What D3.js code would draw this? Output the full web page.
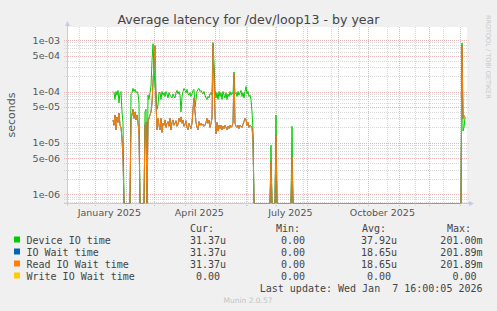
<!DOCTYPE html>
<html>
<head>
<meta charset="utf-8">
<script src="https://cdn.jsdelivr.net/npm/d3@7"></script>
<style>
  html, body { margin: 0; padding: 0; background: #f0f0f0; }
  svg { display: block; font-family: "DejaVu Sans", sans-serif; }
  .mono { font-family: "DejaVu Sans Mono", monospace; font-size: 10px; fill: #444; white-space: pre; }
</style>
</head>
<body>
<svg id="chart" width="497" height="311"></svg>
<script>
// Graph window: 400 days ending at the last update
const graphStart = '2024-12-03T16:00:00Z';
const graphEnd = '2026-01-07T16:00:00Z';

// [days since graphStart, latency in microseconds]; 0 means no latency (drawn on the floor)
const deviceIO = [
  [46,100],[47,95],[48,70],[49,100],[50,85],[51,105],[52,60],[53,95],[54,100],[55,40],[56,25],[57,0],[63,0],
  [64,90],[65,95],[66,115],[67,100],[68,110],[69,95],[70,100],[71,90],[72,60],[73,0],[77,0],[78,40],[79,45],[80,0],
  [81,85],[82,70],[83,95],[84,130],[85,400],[86,850],[87,300],[88,120],[89,90],[90,45],[91,55],[92,95],
  [93,95],[94,70],[95,100],[96,85],[97,95],[98,80],[99,100],[100,90],[101,75],[102,95],[103,85],[104,80],
  [105,75],[106,90],[107,80],[108,75],[109,95],[110,105],[111,90],[112,100],[113,85],[114,40],[115,80],[116,100],
  [117,115],[118,105],[119,95],[120,110],[121,90],[122,85],[123,95],[124,80],[125,90],[126,105],[127,110],[128,50],
  [129,70],[130,100],[131,110],[132,115],[133,100],[134,105],[135,95],[136,90],[137,100],[138,85],[139,75],[140,70],
  [141,80],[142,75],[143,90],[144,95],[145,85],[146,900],[147,350],[148,110],[149,75],[150,95],[151,70],[152,100],
  [153,80],[154,95],[155,70],[156,100],[157,85],[158,75],[159,95],[160,70],[161,90],[162,80],[163,100],[164,85],
  [165,95],[166,90],[167,240],[168,90],[169,95],[170,80],[171,100],[172,85],[173,95],[174,105],[175,80],[176,95],
  [177,75],[178,100],[179,125],[180,90],[181,100],[182,80],[183,85],[184,70],[185,40],[186,18],[187,0],
  [203,0],[204,9],[205,0],[208,0],[209,35],[210,0],[224,0],[225,21],[226,0],
  [394,0],[395,880],[396,17],[397,20],[398,31.37]
];

const readWait = [
  [46,28],[47,22],[48,35],[49,18],[50,32],[51,25],[52,38],[53,22],[54,20],[55,12],[56,5],[57,0],[63,0],
  [64,30],[65,35],[66,45],[67,30],[68,40],[69,28],[70,35],[71,25],[72,15],[73,0],[77,0],[78,22],[79,25],[80,0],
  [81,25],[82,30],[83,35],[84,40],[85,60],[86,150],[87,350],[88,780],[89,60],[90,18],[91,30],[92,22],
  [93,18],[94,30],[95,16],[96,24],[97,22],[98,28],[99,20],[100,24],[101,26],[102,21],[103,30],[104,18],
  [105,25],[106,28],[107,22],[108,24],[109,27],[110,21],[111,23],[112,30],[113,26],[114,32],[115,24],[116,28],
  [117,21],[118,23],[119,27],[120,20],[121,18],[122,24],[123,21],[124,19],[125,24],[126,45],[127,75],[128,40],
  [129,25],[130,20],[131,18],[132,26],[133,22],[134,24],[135,22],[136,23],[137,21],[138,22],[139,25],[140,30],
  [141,24],[142,28],[143,20],[144,24],[145,30],[146,820],[147,200],[148,35],[149,15],[150,25],[151,17],[152,22],
  [153,19],[154,22],[155,18],[156,21],[157,19],[158,22],[159,20],[160,18],[161,21],[162,19],[163,22],[164,20],
  [165,21],[166,25],[167,220],[168,24],[169,21],[170,20],[171,22],[172,19],[173,22],[174,21],[175,20],[176,23],
  [177,26],[178,30],[179,28],[180,22],[181,25],[182,20],[183,22],[184,21],[185,20],[186,12],[187,0],
  [203,0],[204,4.3],[205,0],[208,0],[209,14],[210,0],[224,0],[225,5.3],[226,0],
  [394,0],[395,800],[396,30],[397,34],[398,31.37]
];

// IO Wait equals Read IO Wait over the whole year, Write IO Wait is flat zero
const ioWait = readWait;
const writeWait = [[46,0],[398,0]];

const yTickValues = [1e-3, 5e-4, 1e-4, 5e-5, 1e-5, 5e-6, 1e-6];
const xLabelMonths = ['2025-01-01', '2025-04-01', '2025-07-01', '2025-10-01'];

const legendNames = ['Device IO time', 'IO Wait time', 'Read IO Wait time', 'Write IO Wait time'];
const legendColors = ['#00cc00', '#0066b3', '#ff8000', '#ffcc00'];
const curValues = ['31.37u', '31.37u', '31.37u', '0.00 '];
const minValues = ['0.00 ', '0.00 ', '0.00 ', '0.00 '];
const avgValues = ['37.92u', '18.65u', '18.65u', '0.00 '];
const maxValues = ['201.00m', '201.89m', '201.89m', '0.00 '];
const lastUpdate = 'Last update: Wed Jan  7 16:00:05 2026';

const svg = d3.select('#chart');
const plot = { left: 67, right: 467, top: 27, bottom: 203 };

const t0 = new Date(graphStart);
const dayMs = 86400000;
const x = d3.scaleUtc().domain([t0, new Date(graphEnd)]).range([plot.left, plot.right]);
const y = d3.scaleLog().domain([6.77e-7, 1.8e-3]).range([plot.bottom, plot.top]);

const snap = v => Math.round(v) + 0.5;
const minorColor = '#d8d8d8';
const majorColor = '#ecb4b4';
const axisColor = '#c8c8f0';

// White canvas of the graph
svg.append('rect')
  .attr('x', plot.left).attr('y', plot.top)
  .attr('width', plot.right - plot.left).attr('height', plot.bottom - plot.top)
  .attr('fill', '#fff');

// Horizontal log grid: every 1..9 multiple, labelled ones in red
const yGrid = [];
for (let e = -7; e <= -2; e++) {
  for (let m = 1; m <= 9; m++) {
    const v = m * Math.pow(10, e);
    if (v >= y.domain()[0] && v <= y.domain()[1]) yGrid.push({ v, major: m === 1 || m === 5 });
  }
}
const gGrid = svg.append('g').attr('stroke-dasharray', '1,1').attr('stroke-width', 1);
gGrid.selectAll('line.hminor')
  .data(yGrid.filter(d => !d.major))
  .join('line')
  .attr('x1', plot.left - 3).attr('x2', plot.right + 2)
  .attr('y1', d => snap(y(d.v))).attr('y2', d => snap(y(d.v)))
  .attr('stroke', minorColor);

// Vertical grid: 4-week minor lines, month lines in red
const minorDates = d3.utcDays(new Date('2024-12-16T00:00:00Z'), new Date(graphEnd), 28);
gGrid.selectAll('line.vminor')
  .data(minorDates)
  .join('line')
  .attr('x1', d => snap(x(d))).attr('x2', d => snap(x(d)))
  .attr('y1', plot.top).attr('y2', plot.bottom + 3)
  .attr('stroke', minorColor);

gGrid.selectAll('line.hmajor')
  .data(yGrid.filter(d => d.major))
  .join('line')
  .attr('x1', plot.left - 3).attr('x2', plot.right + 2)
  .attr('y1', d => snap(y(d.v))).attr('y2', d => snap(y(d.v)))
  .attr('stroke', majorColor);

const monthDates = d3.utcMonths(t0, new Date(graphEnd));
gGrid.selectAll('line.vmajor')
  .data(monthDates)
  .join('line')
  .attr('x1', d => snap(x(d))).attr('x2', d => snap(x(d)))
  .attr('y1', plot.top).attr('y2', plot.bottom + 3)
  .attr('stroke', majorColor);

// Axes with arrows
const gAxis = svg.append('g').attr('stroke', axisColor).attr('fill', axisColor);
gAxis.append('line')
  .attr('x1', plot.left + 0.5).attr('x2', plot.left + 0.5)
  .attr('y1', plot.bottom + 3).attr('y2', plot.top - 3);
gAxis.append('path')
  .attr('d', `M${plot.left - 2},${plot.top - 1} L${plot.left + 3},${plot.top - 1} L${plot.left + 0.5},${plot.top - 6} Z`)
  .attr('stroke', 'none');
gAxis.append('line')
  .attr('x1', plot.left - 3).attr('x2', plot.right + 4)
  .attr('y1', plot.bottom + 0.5).attr('y2', plot.bottom + 0.5);
gAxis.append('path')
  .attr('d', `M${plot.right + 2},${plot.bottom - 2} L${plot.right + 2},${plot.bottom + 3} L${plot.right + 7},${plot.bottom + 0.5} Z`)
  .attr('stroke', 'none');

// Series lines, clipped to the graph area; zeros sit on the floor of the log scale
svg.append('clipPath').attr('id', 'clip')
  .append('rect')
  .attr('x', plot.left).attr('y', plot.top)
  .attr('width', plot.right - plot.left).attr('height', plot.bottom - plot.top + 0.5);

const line = d3.line()
  .x(d => x(new Date(t0.getTime() + d[0] * dayMs)))
  .y(d => d[1] > 0 ? y(d[1] * 1e-6) : plot.bottom + 0.5);

const gLines = svg.append('g').attr('clip-path', 'url(#clip)').attr('fill', 'none').attr('stroke-width', 1);
[deviceIO, ioWait, readWait, writeWait].forEach((series, i) => {
  gLines.append('path')
    .attr('d', line(series))
    .attr('stroke', legendColors[i])
    .attr('stroke-opacity', i === 3 ? 0.55 : 1);
});

// Y tick labels
svg.append('g')
  .selectAll('text')
  .data(yTickValues)
  .join('text')
  .attr('x', plot.left - 7)
  .attr('y', d => y(d) + 3.5)
  .attr('text-anchor', 'end')
  .attr('font-size', '9.5px')
  .attr('fill', '#555')
  .text(d => d3.format('.0e')(d).replace(/e([+-])(\d)$/, 'e$10$2'));

// X labels, centred on the middle of the first month of each quarter
const fmtMonth = d3.utcFormat('%B %Y');
svg.append('g')
  .selectAll('text')
  .data(xLabelMonths.map(s => new Date(s + 'T00:00:00Z')))
  .join('text')
  .attr('x', d => x(d3.utcDay.offset(d, 14)))
  .attr('y', 216)
  .attr('text-anchor', 'middle')
  .attr('font-size', '9.5px')
  .attr('fill', '#555')
  .text(fmtMonth);

// Titles
svg.append('text')
  .attr('x', 248.5).attr('y', 23.5)
  .attr('text-anchor', 'middle')
  .attr('font-size', '12.6px')
  .attr('fill', '#444')
  .text('Average latency for /dev/loop13 - by year');

svg.append('text')
  .attr('transform', `translate(15,${(plot.top + plot.bottom) / 2}) rotate(-90)`)
  .attr('text-anchor', 'middle')
  .attr('font-size', '11px')
  .attr('fill', '#555')
  .text('seconds');

svg.append('text')
  .attr('transform', 'translate(486,15) rotate(90)')
  .attr('font-size', '6.5px')
  .attr('fill', '#c8c8c8')
  .text('RRDTOOL / TOBI OETIKER');

// Legend
const charW = 6.02;
const gLeg = svg.append('g');
const headers = [['Cur:', 190], ['Min:', 276], ['Avg:', 362], ['Max:', 447]];
gLeg.selectAll('text.hdr')
  .data(headers)
  .join('text')
  .attr('class', 'mono')
  .attr('x', d => d[1]).attr('y', 232)
  .text(d => d[0]);

const rowY = i => 243.5 + i * 12;
gLeg.selectAll('rect')
  .data(legendColors)
  .join('rect')
  .attr('x', 14).attr('y', (d, i) => rowY(i) - 7)
  .attr('width', 6).attr('height', 6)
  .attr('fill', d => d);

gLeg.selectAll('text.name')
  .data(legendNames)
  .join('text')
  .attr('class', 'mono')
  .attr('x', 26.5).attr('y', (d, i) => rowY(i))
  .text(d => d);

const columns = [[curValues, 226], [minValues, 311], [avgValues, 397], [maxValues, 482.5]];
columns.forEach(([vals, right]) => {
  gLeg.append('g')
    .selectAll('text')
    .data(vals)
    .join('text')
    .attr('class', 'mono')
    .attr('x', d => right - d.length * charW)
    .attr('y', (d, i) => rowY(i))
    .text(d => d.trimEnd());
});

gLeg.append('text')
  .attr('class', 'mono')
  .attr('x', 482.5 - lastUpdate.length * charW).attr('y', 291.5)
  .text(lastUpdate);

svg.append('text')
  .attr('x', 248).attr('y', 302.5)
  .attr('text-anchor', 'middle')
  .attr('font-size', '7.5px')
  .attr('fill', '#c4c4c4')
  .text('Munin 2.0.57');
</script>
</body>
</html>
